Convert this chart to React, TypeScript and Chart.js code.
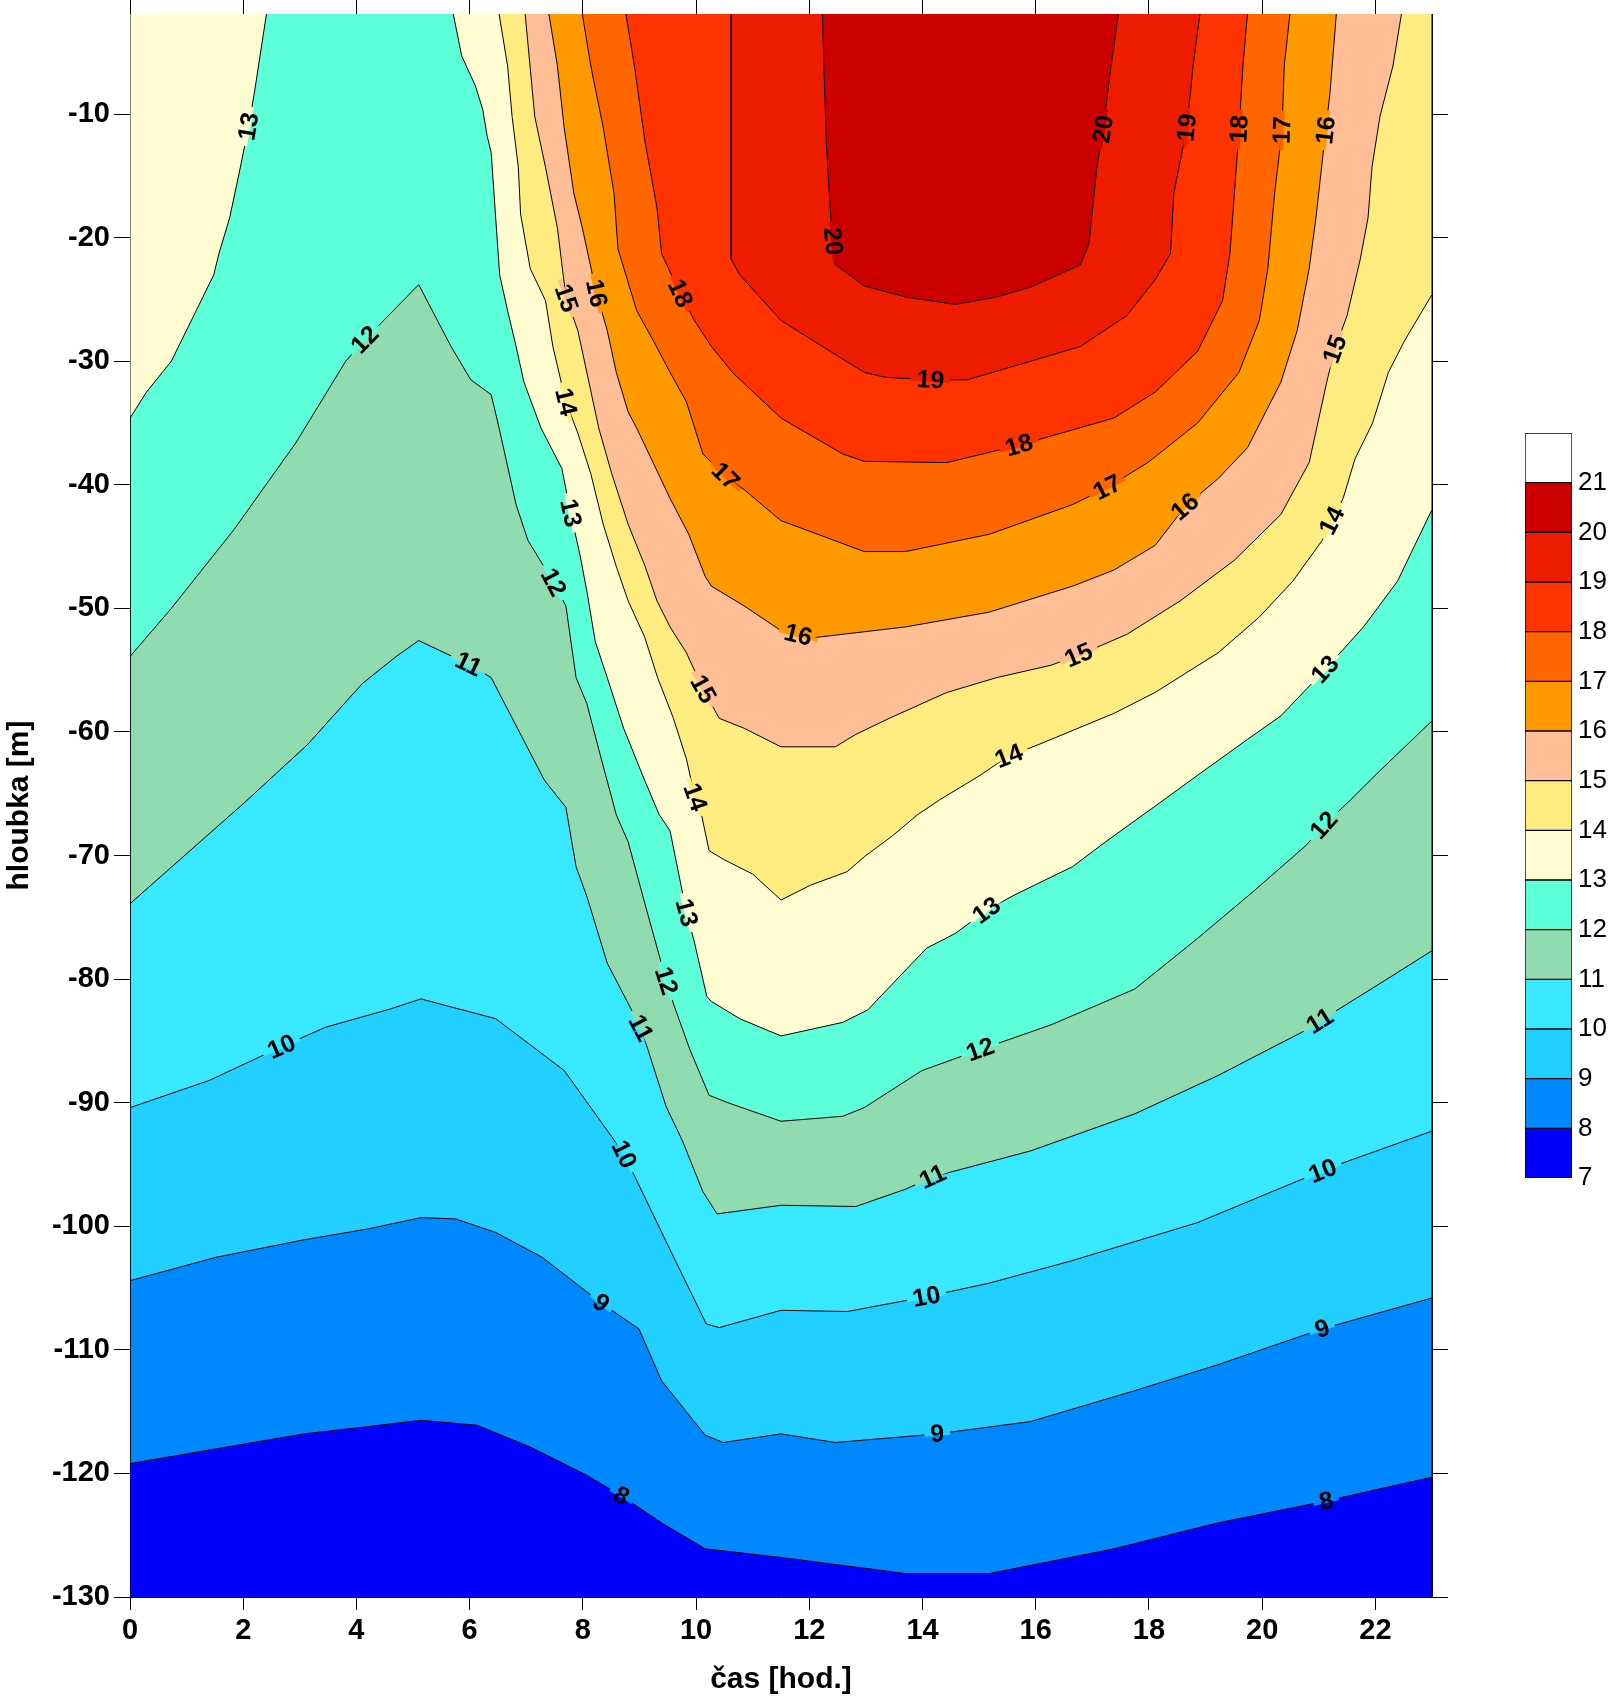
import React, { useEffect, useRef } from "react";
import { Chart, registerables } from "chart.js";

Chart.register(...registerables);

const FONT = '"Liberation Sans", Arial, Helvetica, sans-serif';

type Pt = [number, number];

const X_MIN = 0;
const X_MAX = 23;
const Y_MIN = -130;
const Y_TOP = -1.9;

const xTicks = [0, 2, 4, 6, 8, 10, 12, 14, 16, 18, 20, 22];
const yTicks = [-130, -120, -110, -100, -90, -80, -70, -60, -50, -40, -30, -20, -10];
const colorbarTicks = [7, 8, 9, 10, 11, 12, 13, 14, 15, 16, 17, 18, 19, 20, 21];
const bandLows = [7, 8, 9, 10, 11, 12, 13, 14, 15, 16, 17, 18, 19, 20, 21];
const bandColors = [
  "#0000FF", "#0088FF", "#22D0FF", "#38E8FF", "#90DCB0", "#5CFFD8", "#FFFCD2",
  "#FFEC80", "#FFBE96", "#FF9900", "#FF6600", "#FF3300", "#EE1C00", "#CC0000", "#FFFFFF",
];

// isotherms (time [h], depth [m])
const iso8: Pt[] = [[0,-119.2],[1.53,-118.0],[3.07,-116.8],[4.22,-116.2],[5.14,-115.7],[6.13,-116.1],[7.09,-117.9],[8.05,-120.1],[8.68,-121.8],[9.39,-124.0],[10.16,-126.1],[11.5,-126.8],[13.7,-128.1],[15.18,-128.1],[17.38,-126.1],[19.22,-124.0],[21.06,-122.3],[23,-120.3]];
const iso9: Pt[] = [[0,-104.4],[1.53,-102.5],[3.07,-101.1],[4.22,-100.2],[5.14,-99.3],[5.75,-99.4],[6.46,-100.5],[7.28,-102.5],[8.32,-106.2],[8.99,-108.3],[9.39,-112.5],[10.16,-116.9],[10.48,-117.5],[11.5,-116.8],[12.46,-117.5],[14.26,-116.8],[15.91,-115.8],[17.75,-113.3],[19.22,-111.2],[21.06,-108.3],[23,-105.8]];
const iso10: Pt[] = [[0,-90.4],[1.4,-88.2],[2.66,-85.5],[3.45,-83.9],[4.61,-82.4],[5.14,-81.6],[5.63,-82.2],[6.46,-83.2],[7.67,-87.4],[8.72,-94.1],[9.53,-101.8],[10.18,-107.9],[10.41,-108.2],[11.5,-106.8],[12.67,-106.9],[14.07,-105.7],[15.18,-104.6],[16.63,-102.8],[18.86,-99.7],[20.7,-96.2],[21.35,-95.0],[23,-92.3]];
const iso11: Pt[] = [[0,-73.9],[2.05,-65.6],[3.14,-61.0],[4.1,-56.1],[4.7,-53.9],[5.1,-52.6],[6.02,-54.6],[6.38,-55.6],[7.32,-63.9],[7.7,-66.1],[7.88,-70.9],[8.07,-73.3],[8.43,-78.7],[9.03,-84.0],[9.47,-90.3],[9.76,-93.1],[10.12,-97.2],[10.37,-99.0],[11.5,-98.3],[12.82,-98.4],[13.7,-97.0],[14.18,-96.0],[15.91,-93.9],[17.75,-90.9],[19.22,-87.8],[20.7,-84.3],[22.31,-79.7],[23,-77.7]];
const iso12: Pt[] = [[0,-53.9],[0.73,-50.0],[1.84,-43.6],[2.93,-36.6],[3.81,-30.0],[4.14,-28.3],[5.1,-23.8],[5.67,-28.8],[6.02,-31.5],[6.38,-32.7],[6.52,-35.4],[6.82,-41.6],[7.03,-44.5],[7.47,-47.8],[7.7,-49.8],[7.88,-55.6],[8.07,-57.7],[8.28,-61.4],[8.59,-66.7],[8.8,-68.9],[9.09,-73.8],[9.47,-80.1],[9.6,-82.0],[9.89,-85.7],[10.23,-89.4],[10.56,-90.0],[11.5,-91.5],[12.59,-91.1],[12.97,-90.4],[13.99,-87.4],[15.02,-85.7],[16.27,-83.7],[17.75,-80.8],[18.86,-76.7],[19.82,-73.0],[20.77,-69.2],[21.1,-67.5],[21.56,-65.5],[22.02,-63.4],[23,-59.1]];
const iso13a: Pt[] = [[2.41,Y_TOP],[2.2,-8.2],[2.09,-11.1],[1.95,-14.3],[1.76,-18.4],[1.57,-21.3],[1.48,-23.0],[1.17,-25.9],[0.73,-30.0],[0.29,-32.5],[0,-34.6]];
const iso13b: Pt[] = [[5.71,Y_TOP],[5.86,-5.3],[6.1,-7.7],[6.23,-9.6],[6.31,-11.8],[6.38,-13.1],[6.46,-18.4],[6.53,-23.0],[6.67,-25.9],[6.82,-28.8],[6.96,-31.7],[7.26,-35.4],[7.63,-38.7],[7.78,-42.2],[7.95,-45.7],[8.07,-48.6],[8.22,-52.7],[8.43,-55.6],[8.72,-59.7],[9.09,-63.9],[9.35,-66.7],[9.54,-68.0],[9.83,-74.6],[9.97,-77.0],[10.19,-81.4],[10.27,-81.8],[10.77,-83.2],[11.5,-84.6],[12.59,-83.5],[13.03,-82.5],[13.55,-80.0],[14.07,-77.5],[14.58,-76.3],[15.14,-74.4],[15.62,-73.2],[16.65,-70.9],[17.23,-68.9],[18.11,-66.0],[18.86,-63.5],[19.74,-60.6],[20.33,-58.7],[21.1,-55.0],[21.79,-51.5],[22.39,-47.8],[23,-42.0]];
const iso14: Pt[] = [[6.52,Y_TOP],[6.67,-6.1],[6.75,-10.2],[6.86,-14.3],[6.9,-18.1],[7.07,-22.5],[7.34,-25.1],[7.47,-28.8],[7.7,-33.3],[7.91,-35.8],[8.14,-39.1],[8.36,-43.2],[8.59,-46.6],[8.8,-49.4],[9.09,-52.3],[9.32,-55.6],[9.6,-58.9],[9.83,-62.2],[9.97,-65.1],[10.1,-66.8],[10.23,-69.6],[10.48,-70.3],[11.0,-71.5],[11.5,-73.6],[12.02,-72.4],[12.67,-71.3],[12.97,-70.1],[13.47,-68.4],[13.91,-66.7],[14.3,-65.5],[15.02,-63.5],[15.5,-62.0],[16.06,-61.0],[17.38,-58.5],[18.11,-56.8],[19.22,-53.6],[19.95,-50.7],[20.54,-47.8],[21.06,-44.5],[21.43,-41.1],[21.64,-37.9],[21.95,-35.0],[22.23,-30.9],[22.52,-28.3],[23,-24.6]];
const iso15: Pt[] = [[6.98,Y_TOP],[7.05,-5.3],[7.15,-10.2],[7.34,-14.3],[7.55,-19.2],[7.7,-24.8],[7.91,-27.5],[8.07,-30.9],[8.28,-35.4],[8.51,-39.1],[8.8,-43.2],[9.1,-46.6],[9.31,-49.4],[9.54,-51.5],[9.83,-53.6],[10.12,-56.5],[10.41,-58.9],[10.85,-59.7],[11.5,-61.2],[12.46,-61.2],[12.82,-60.2],[13.41,-58.9],[14.43,-56.8],[15.31,-55.6],[16.27,-54.6],[16.75,-53.8],[17.61,-52.1],[18.55,-49.4],[19.51,-46.1],[20.33,-42.4],[20.83,-38.2],[21.14,-31.7],[21.27,-29.2],[21.5,-26.3],[21.73,-21.8],[21.87,-18.4],[21.94,-14.3],[22.08,-10.2],[22.31,-6.1],[22.46,Y_TOP]];
const iso16: Pt[] = [[7.4,Y_TOP],[7.55,-6.1],[7.67,-11.1],[7.84,-16.4],[7.99,-19.2],[8.24,-24.5],[8.43,-27.5],[8.59,-30.9],[8.8,-34.1],[8.95,-35.4],[9.24,-38.2],[9.54,-41.1],[9.87,-44.0],[10.16,-47.4],[10.27,-48.2],[10.85,-49.8],[11.5,-51.8],[12.02,-52.4],[13.7,-51.5],[15.18,-50.3],[16.65,-48.2],[17.38,-46.9],[18.11,-44.9],[18.63,-41.8],[19.22,-39.5],[19.74,-37.0],[20.33,-31.7],[20.62,-27.5],[20.83,-22.5],[20.95,-18.4],[21.12,-11.4],[21.2,-8.2],[21.31,Y_TOP]];
const iso17: Pt[] = [[7.99,Y_TOP],[8.14,-6.1],[8.36,-11.1],[8.55,-16.4],[8.62,-20.9],[8.95,-25.9],[9.24,-28.3],[9.54,-30.9],[9.83,-33.3],[10.12,-37.5],[10.52,-39.3],[10.85,-40.4],[11.5,-42.9],[12.97,-45.4],[13.7,-45.4],[15.18,-44.0],[16.65,-41.6],[17.27,-40.2],[17.98,-38.2],[18.86,-35.0],[19.59,-30.9],[19.95,-26.7],[20.1,-22.5],[20.22,-16.4],[20.35,-11.4],[20.39,-6.1],[20.49,Y_TOP]];
const iso18: Pt[] = [[8.76,Y_TOP],[8.91,-6.1],[9.1,-12.3],[9.31,-17.6],[9.39,-21.3],[9.72,-24.5],[9.97,-26.7],[10.27,-28.8],[10.64,-30.9],[11.5,-34.6],[12.59,-37.5],[12.97,-38.1],[14.43,-38.2],[15.7,-36.8],[17.38,-34.6],[18.11,-32.5],[18.86,-29.2],[19.3,-25.1],[19.43,-21.3],[19.51,-16.4],[19.59,-11.4],[19.66,-6.1],[19.74,Y_TOP]];
const iso19: Pt[] = [[10.62,Y_TOP],[10.62,-21.75],[10.77,-23.0],[11.5,-26.7],[12.23,-28.8],[12.97,-30.9],[13.34,-31.3],[14.14,-31.5],[14.79,-31.5],[15.91,-30.0],[16.79,-28.8],[17.61,-26.3],[18.11,-23.4],[18.38,-21.3],[18.44,-16.4],[18.67,-11.1],[18.78,-6.1],[18.9,Y_TOP]];
const iso20: Pt[] = [[12.23,Y_TOP],[12.3,-12.3],[12.38,-18.4],[12.46,-22.2],[12.97,-23.9],[13.7,-24.8],[14.58,-25.4],[15.31,-24.8],[15.91,-24.0],[16.79,-22.2],[16.94,-20.5],[17.08,-14.3],[17.19,-11.2],[17.31,-6.8],[17.46,Y_TOP]];

// contour labels: [level, time, depth]
const contourLabels: [number, number, number][] = [
  [13,2.09,-11.0],[20,12.38,-20.3],[20,17.19,-11.2],[19,18.69,-11.1],[18,19.57,-11.2],[17,20.33,-11.3],[16,21.12,-11.3],
  [12,4.18,-28.4],[15,7.70,-24.9],[16,8.24,-24.5],[18,9.72,-24.5],[14,7.70,-33.3],[19,14.14,-31.5],[18,15.70,-36.75],
  [17,10.52,-39.3],[17,17.25,-40.1],[16,18.63,-41.75],[14,21.23,-42.9],[15,21.27,-29.0],[13,7.76,-42.3],[12,7.44,-48.0],
  [16,11.79,-52.4],[15,16.75,-53.7],[11,5.98,-54.5],[15,10.10,-56.6],[13,21.10,-54.9],[14,15.52,-61.9],[14,9.97,-65.3],
  [12,21.08,-67.5],[13,9.77,-74.7],[13,15.14,-74.5],[12,9.43,-80.2],[11,9.01,-84.0],[10,2.68,-85.5],[12,15.02,-85.7],
  [11,21.02,-83.4],[10,8.72,-94.2],[11,14.18,-96.0],[10,21.06,-95.4],[10,14.07,-105.7],[9,8.32,-106.2],[9,14.26,-116.8],
  [9,21.06,-108.3],[8,8.68,-121.8],[8,21.12,-122.0],
];

const contourSets: Record<number, Pt[][]> = {
  8: [iso8], 9: [iso9], 10: [iso10], 11: [iso11], 12: [iso12], 13: [iso13a, iso13b],
  14: [iso14], 15: [iso15], 16: [iso16], 17: [iso17], 18: [iso18], 19: [iso19], 20: [iso20],
};

const regions: { level: number; pts: Pt[] }[] = [
  { level: 7, pts: [[X_MIN, Y_MIN], [X_MIN, Y_TOP], [X_MAX, Y_TOP], [X_MAX, Y_MIN]] },
  { level: 8, pts: [[X_MIN, Y_TOP], ...iso8, [X_MAX, Y_TOP]] },
  { level: 9, pts: [[X_MIN, Y_TOP], ...iso9, [X_MAX, Y_TOP]] },
  { level: 10, pts: [[X_MIN, Y_TOP], ...iso10, [X_MAX, Y_TOP]] },
  { level: 11, pts: [[X_MIN, Y_TOP], ...iso11, [X_MAX, Y_TOP]] },
  { level: 12, pts: [[X_MIN, Y_TOP], ...iso12, [X_MAX, Y_TOP]] },
  { level: 13, pts: [...iso13a, [X_MIN, Y_TOP]] },
  { level: 13, pts: [...iso13b, [X_MAX, Y_TOP]] },
  { level: 14, pts: [...iso14, [X_MAX, Y_TOP]] },
  { level: 15, pts: iso15 },
  { level: 16, pts: iso16 },
  { level: 17, pts: iso17 },
  { level: 18, pts: iso18 },
  { level: 19, pts: iso19 },
  { level: 20, pts: iso20 },
];

const labelPlugin = {
  id: "contourLabels",
  afterDatasetsDraw(chart: any) {
    const { ctx, scales, chartArea } = chart;
    const sx = scales.x;
    const sy = scales.y;
    ctx.save();
    ctx.beginPath();
    ctx.rect(chartArea.left, chartArea.top, chartArea.right - chartArea.left, chartArea.bottom - chartArea.top);
    ctx.clip();
    ctx.font = `bold 25px ${FONT}`;
    ctx.textAlign = "center";
    ctx.textBaseline = "middle";
    for (const [lvl, lx, ly] of contourLabels) {
      const px = sx.getPixelForValue(lx);
      const py = sy.getPixelForValue(ly);
      let best = Infinity;
      let ang = 0;
      let qx = px;
      let qy = py;
      for (const line of contourSets[lvl] || []) {
        for (let i = 0; i < line.length - 1; i++) {
          const x1 = sx.getPixelForValue(line[i][0]);
          const y1 = sy.getPixelForValue(line[i][1]);
          const x2 = sx.getPixelForValue(line[i + 1][0]);
          const y2 = sy.getPixelForValue(line[i + 1][1]);
          const dx = x2 - x1;
          const dy = y2 - y1;
          const l2 = dx * dx + dy * dy || 1;
          let t = ((px - x1) * dx + (py - y1) * dy) / l2;
          t = Math.max(0, Math.min(1, t));
          const cx = x1 + t * dx;
          const cy = y1 + t * dy;
          const d = (cx - px) ** 2 + (cy - py) ** 2;
          if (d < best) {
            best = d;
            ang = Math.atan2(dy, dx);
            qx = cx;
            qy = cy;
          }
        }
      }
      if (ang > Math.PI / 2) ang -= Math.PI;
      if (ang < -Math.PI / 2) ang += Math.PI;
      const text = String(lvl);
      const w = ctx.measureText(text).width;
      ctx.save();
      ctx.translate(qx, qy);
      ctx.rotate(ang);
      ctx.fillStyle = bandColors[lvl - 7];
      ctx.fillRect(-w / 2 - 6, -2, w + 12, 4);
      ctx.fillStyle = "#000";
      ctx.fillText(text, 0, 1);
      ctx.restore();
    }
    ctx.restore();
  },
};

export default function App() {
  const mainRef = useRef<HTMLCanvasElement | null>(null);
  const barRef = useRef<HTMLCanvasElement | null>(null);

  useEffect(() => {
    if (!mainRef.current || !barRef.current) return;
    const tickFont = { family: FONT, size: 29, weight: "bold" as const };
    const titleFont = { family: FONT, size: 30, weight: "bold" as const };
    const black = "#000000";

    const main = new Chart(mainRef.current, {
      type: "line",
      data: {
        datasets: regions.map((r) => ({
          data: r.pts.map(([x, y]) => ({ x, y })),
          backgroundColor: bandColors[r.level - 7],
          borderColor: black,
          borderWidth: 1,
          fill: "shape",
          pointRadius: 0,
          pointHoverRadius: 0,
          tension: 0,
          order: 100 - r.level,
          clip: 0,
        })) as any,
      },
      options: {
        animation: false,
        responsive: false,
        events: [],
        layout: { padding: { left: 0, top: 0, right: 160, bottom: 0 } },
        plugins: { legend: { display: false }, tooltip: { enabled: false } },
        scales: {
          x: {
            type: "linear",
            position: "bottom",
            min: X_MIN,
            max: X_MAX,
            afterBuildTicks: (s: any) => { s.ticks = xTicks.map((v) => ({ value: v })); },
            afterFit: (s: any) => { s.height = 102; s.paddingLeft = 0; s.paddingRight = 0; },
            ticks: { font: tickFont, color: black, padding: 4, maxRotation: 0, autoSkip: false },
            grid: { drawOnChartArea: false, drawTicks: true, tickLength: 13, color: black, lineWidth: 1 },
            border: { display: true, color: black, width: 1 },
            title: { display: true, text: "čas [hod.]", font: titleFont, color: black, padding: { top: 0, bottom: 1 } },
          },
          xTop: {
            type: "linear",
            position: "top",
            min: X_MIN,
            max: X_MAX,
            afterBuildTicks: (s: any) => { s.ticks = xTicks.map((v) => ({ value: v })); },
            afterFit: (s: any) => { s.height = 14; s.paddingLeft = 0; s.paddingRight = 0; },
            ticks: { display: false },
            grid: { drawOnChartArea: false, drawTicks: true, tickLength: 14, color: black, lineWidth: 1 },
            border: { display: true, color: black, width: 1 },
          },
          y: {
            type: "linear",
            position: "left",
            min: Y_MIN,
            max: Y_TOP,
            afterBuildTicks: (s: any) => { s.ticks = yTicks.map((v) => ({ value: v })); },
            afterFit: (s: any) => { s.width = 130; s.paddingTop = 0; s.paddingBottom = 0; },
            ticks: { font: tickFont, color: black, padding: 4 },
            grid: { drawOnChartArea: false, drawTicks: true, tickLength: 16, color: black, lineWidth: 1 },
            border: { display: true, color: black, width: 1 },
            title: { display: true, text: "hloubka [m]", font: titleFont, color: black, padding: { top: 2, bottom: 0 } },
          },
          yRight: {
            type: "linear",
            position: "right",
            min: Y_MIN,
            max: Y_TOP,
            afterBuildTicks: (s: any) => { s.ticks = yTicks.map((v) => ({ value: v })); },
            afterFit: (s: any) => { s.width = 16; s.paddingTop = 0; s.paddingBottom = 0; },
            ticks: { display: false },
            grid: { drawOnChartArea: false, drawTicks: true, tickLength: 16, color: black, lineWidth: 1 },
            border: { display: true, color: black, width: 1 },
          },
        },
      } as any,
      plugins: [labelPlugin],
    });

    const bar = new Chart(barRef.current, {
      type: "bar",
      data: {
        labels: [""],
        datasets: bandLows.map((lo, i) => ({
          data: [[lo, lo + 1]],
          backgroundColor: bandColors[i],
          borderColor: black,
          borderWidth: 1,
          borderSkipped: false,
          grouped: false,
          barPercentage: 1,
          categoryPercentage: 1,
        })) as any,
      },
      options: {
        animation: false,
        responsive: false,
        events: [],
        layout: { padding: { left: 5, top: 13, right: 0, bottom: 22 } },
        plugins: { legend: { display: false }, tooltip: { enabled: false } },
        scales: {
          x: { display: false },
          y: {
            position: "right",
            min: 7,
            max: 22,
            afterBuildTicks: (s: any) => { s.ticks = colorbarTicks.map((v) => ({ value: v })); },
            afterFit: (s: any) => { s.width = 36; s.paddingTop = 0; s.paddingBottom = 0; },
            ticks: { font: { family: FONT, size: 26 }, color: black, padding: 6, labelOffset: 0 },
            grid: { display: false, drawTicks: false },
            border: { display: false },
          },
        },
      } as any,
    });

    return () => {
      main.destroy();
      bar.destroy();
    };
  }, []);

  return (
    <>
      <canvas ref={mainRef} width={1608} height={1699} style={{ position: "absolute", left: 0, top: 0 }} />
      <canvas ref={barRef} width={88} height={780} style={{ position: "absolute", left: 1520, top: 420 }} />
    </>
  );
}
